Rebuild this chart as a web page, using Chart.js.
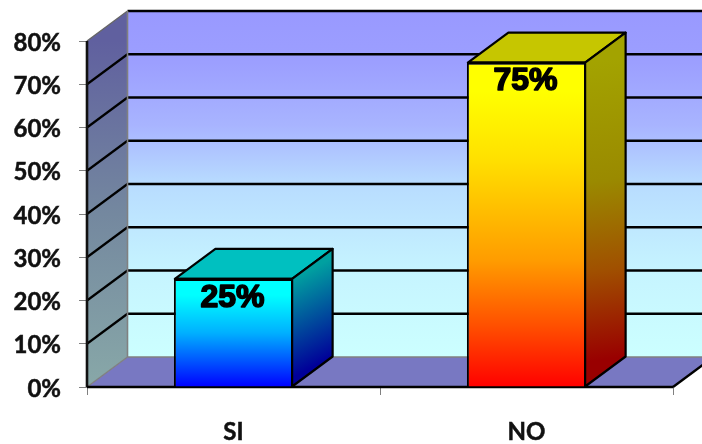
<!DOCTYPE html>
<html>
<head>
<meta charset="utf-8">
<title>SI / NO</title>
<style>
    html, body { margin: 0; padding: 0; background: #fff; }
    canvas { display: block; }
</style>
<script src="https://cdn.jsdelivr.net/npm/chart.js@4"></script>
</head>
<body>
<canvas id="grafico" width="702" height="444"></canvas>
<script>
var categorias = ["SI", "NO"];
var valores = [25, 75];
var marcasEje = [0, 10, 20, 30, 40, 50, 60, 70, 80];

// profundidad de la caja 3D
var fondoX = 40.5;
var fondoY = -30;

var coloresBarra = [
    { frente: [[0, "#00ffff"], [0.15, "#00ffff"], [0.5, "#00b0ff"], [1, "#0000ff"]], tapa: "#00c0c0", lado: [[0, "#00a0a0"], [1, "#000099"]] },
    { frente: [[0, "#ffff00"], [0.09, "#ffff00"], [0.3, "#ffe000"], [0.61, "#ff9c00"], [0.81, "#ff5000"], [1, "#ff0000"]], tapa: "#c6c600", lado: [[0, "#a3a300"], [0.4, "#9a8a00"], [0.7, "#a05000"], [1, "#990000"]] }
];

function gradiente(ctx, x0, y0, x1, y1, paradas) {
    var g = ctx.createLinearGradient(x0, y0, x1, y1);
    paradas.forEach(function (p) {
        g.addColorStop(p[0], p[1]);
    });
    return g;
}

function poligono(ctx, puntos, relleno, trazo, ancho) {
    ctx.beginPath();
    puntos.forEach(function (p, i) {
        if (i === 0) ctx.moveTo(p[0], p[1]);
        else ctx.lineTo(p[0], p[1]);
    });
    ctx.closePath();
    if (relleno) {
        ctx.fillStyle = relleno;
        ctx.fill();
    }
    if (trazo) {
        ctx.strokeStyle = trazo;
        ctx.lineWidth = ancho;
        ctx.stroke();
    }
}

function linea(ctx, x0, y0, x1, y1, color, ancho) {
    ctx.beginPath();
    ctx.moveTo(x0, y0);
    ctx.lineTo(x1, y1);
    ctx.strokeStyle = color;
    ctx.lineWidth = ancho;
    ctx.stroke();
}

// paredes, piso y lineas de division
var paredes = {
    id: "paredes",
    beforeDatasetsDraw: function (chart) {
        var ctx = chart.ctx;
        var a = chart.chartArea;
        var esc = chart.scales.y;
        var izq = a.left, der = a.right, arr = a.top, aba = a.bottom;
        var bx = izq + fondoX;

        ctx.save();
        poligono(ctx, [[bx, arr + fondoY], [der + fondoX, arr + fondoY], [der + fondoX, aba + fondoY], [bx, aba + fondoY]],
            gradiente(ctx, 0, arr + fondoY, 0, aba + fondoY, [[0, "#9999ff"], [0.15, "#9c9fff"], [0.33, "#a8b4ff"], [0.5, "#b8dcff"], [0.75, "#c6f4ff"], [1, "#ccffff"]]));
        poligono(ctx, [[izq, arr], [bx, arr + fondoY], [bx, aba + fondoY], [izq, aba]],
            gradiente(ctx, 0, arr, 0, aba, [[0, "#60609f"], [0.5, "#74889f"], [1, "#88a8a8"]]));
        poligono(ctx, [[izq, aba], [der, aba], [der + fondoX, aba + fondoY], [bx, aba + fondoY]], "#7878c2");

        marcasEje.forEach(function (v) {
            if (v === 0) return;
            var y = esc.getPixelForValue(v);
            linea(ctx, bx, y + fondoY, der + fondoX, y + fondoY, "#000", 2.4);
            if (v !== 80) linea(ctx, izq, y, bx, y + fondoY, "#000", 2.2);
        });

        linea(ctx, izq, arr, bx, arr + fondoY, "#666", 1.4);
        linea(ctx, bx, arr + fondoY, bx, aba + fondoY, "#808080", 1.6);
        linea(ctx, izq, aba, bx, aba + fondoY, "#808080", 1.4);
        linea(ctx, bx, aba + fondoY, der + fondoX, aba + fondoY, "#808080", 1.6);
        linea(ctx, der, aba, der + fondoX, aba + fondoY, "#000", 2.4);
        linea(ctx, izq, arr, izq, aba, "#111", 2.6);
        linea(ctx, izq, aba, der, aba, "#000", 2.6);

        // rotulos del eje Y, un poco por debajo de su marca
        ctx.font = "bold 24px Lato";
        ctx.textAlign = "right";
        ctx.textBaseline = "middle";
        ctx.fillStyle = "#111";
        ctx.strokeStyle = "#111";
        ctx.lineWidth = 0.5;
        marcasEje.forEach(function (v) {
            var y = esc.getPixelForValue(v) + 2;
            ctx.strokeText(v + "%", 61, y);
            ctx.fillText(v + "%", 61, y);
        });
        ctx.restore();
    }
};

// tapa y lado de cada barra, mas el porcentaje
var caras = {
    id: "caras",
    afterDatasetsDraw: function (chart) {
        var ctx = chart.ctx;
        ctx.save();
        ctx.lineJoin = "round";
        chart.getDatasetMeta(0).data.forEach(function (barra, i) {
            var c = coloresBarra[i];
            var x0 = barra.x - barra.width / 2 + 1;
            var x1 = barra.x + barra.width / 2 - 1;
            var y0 = barra.y;
            var y1 = barra.base;
            poligono(ctx, [[x0, y0], [x1, y0], [x1 + fondoX, y0 + fondoY], [x0 + fondoX, y0 + fondoY]], c.tapa, "#000", 2.2);
            poligono(ctx, [[x1, y0], [x1 + fondoX, y0 + fondoY], [x1 + fondoX, y1 + fondoY], [x1, y1]],
                gradiente(ctx, x1, y0, x1 + fondoX, y1 + fondoY, c.lado), "#000", 2.2);
            linea(ctx, x0, y0, x1, y0, "#000", 2.4);

            var texto = valores[i] + "%";
            ctx.font = "bold 32px 'Liberation Sans'";
            ctx.textAlign = "center";
            ctx.textBaseline = "middle";
            ctx.fillStyle = "#000";
            ctx.strokeStyle = "#000";
            ctx.lineWidth = 1.6;
            ctx.strokeText(texto, barra.x - 1, y0 + 19);
            ctx.fillText(texto, barra.x - 1, y0 + 19);
        });
        ctx.restore();
    }
};

var ctx = document.getElementById("grafico").getContext("2d");
var chart = new Chart(ctx, {
    type: "bar",
    data: {
        labels: categorias,
        datasets: [
            {
                label: "Respuestas",
                data: valores,
                barPercentage: 0.407,
                categoryPercentage: 1,
                borderColor: "#000",
                borderWidth: 2,
                backgroundColor: function (c) {
                    var ch = c.chart;
                    if (!ch.chartArea || c.dataIndex === undefined) return "#000";
                    var y0 = ch.scales.y.getPixelForValue(valores[c.dataIndex]);
                    var y1 = ch.scales.y.getPixelForValue(0);
                    return gradiente(ch.ctx, 0, y0, 0, y1, coloresBarra[c.dataIndex].frente);
                },
            },
        ],
    },
    options: {
        responsive: false,
        animation: false,
        layout: { padding: { top: 41, right: 29, left: 0, bottom: 0 } },
        plugins: { legend: { display: false }, tooltip: { enabled: false } },
        scales: {
            x: {
                afterFit: function (s) { s.height = 57; },
                border: { display: false },
                grid: { drawOnChartArea: false, tickColor: "#808080", tickLength: 8, tickWidth: 1 },
                ticks: {
                    color: "#111",
                    padding: 23,
                    textStrokeColor: "#111",
                    textStrokeWidth: 0.5,
                    font: { family: "Lato", weight: "bold", size: 24 },
                },
            },
            y: {
                min: 0,
                max: 80,
                afterFit: function (s) { s.width = 87; },
                afterBuildTicks: function (s) {
                    s.ticks = marcasEje.map(function (v) { return { value: v }; });
                },
                border: { display: false },
                grid: { drawOnChartArea: false, tickColor: "#808080", tickLength: 8, tickWidth: 1 },
                ticks: { display: false },
            },
        },
    },
    plugins: [paredes, caras],
});
</script>
</body>
</html>
